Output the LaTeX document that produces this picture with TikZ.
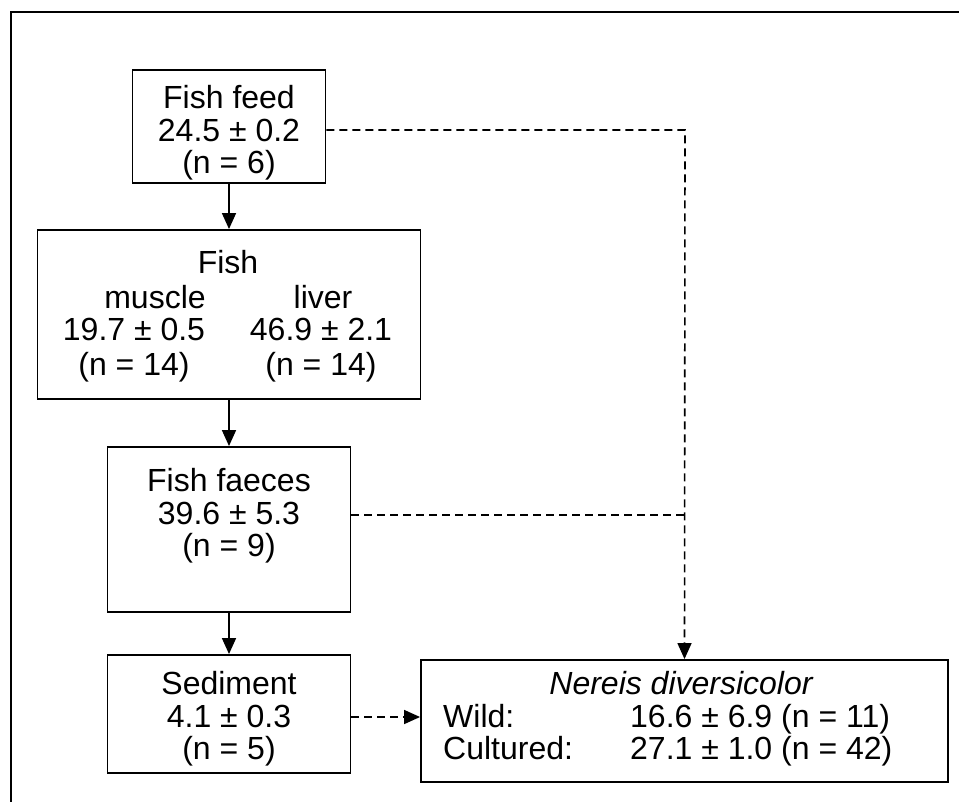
\documentclass[tikz,border=0pt]{standalone}
\usepackage{fontspec}
\setmainfont{Liberation Sans}
\usetikzlibrary{arrows.meta}
\begin{document}
\begin{tikzpicture}[x=1pt,y=-1pt,
  box/.style={draw,line width=1.9pt,rectangle,inner sep=0pt},
  txt/.style={inner sep=0pt,align=center,font={\fontsize{32}{34.5}\selectfont}},
  tight/.style={font={\fontsize{32}{32.5}\selectfont}},
  solidarrow/.style={line width=1.6pt,-{Triangle[length=16pt,width=14pt]}},
  dashline/.style={line width=1.6pt,dash pattern=on 8pt off 5pt},
  dasharrow/.style={dashline,-{Triangle[length=16pt,width=14pt]}}]
\useasboundingbox (0,0) rectangle (959,801);
% outer frame
\draw[line width=2.2pt] (11,805) -- (11,12) -- (965,12);
% boxes
\node[box,minimum width=193pt,minimum height=113pt] (feed) at (229,126.5) {};
\node[box,minimum width=383pt,minimum height=169pt] (fish) at (229,314.5) {};
\node[box,minimum width=243pt,minimum height=165pt] (faeces) at (229,529.5) {};
\node[box,minimum width=243pt,minimum height=118pt] (sed) at (229,714) {};
\node[box,minimum width=527pt,minimum height=122pt] (ner) at (684.5,721) {};
% texts
\node[txt,tight] (tfeed) at (229,133) {Fish feed\\24.5 ± 0.2\\(n = 6)};
\node[txt] (tfish) at (228,262) {Fish};
\node[txt] (tmus) at (155,297) {muscle};
\node[txt] (tmusv) at (134,350) {19.7 ± 0.5\\(n = 14)};
\node[txt] (tliv) at (323,297) {liver};
\node[txt] (tlivv) at (321,350) {46.9 ± 2.1\\(n = 14)};
\node[txt,tight] (tfae) at (229,516) {Fish faeces\\39.6 ± 5.3\\(n = 9)};
\node[txt,tight] (tsed) at (229,719) {Sediment\\4.1 ± 0.3\\(n = 5)};
\node[txt,font={\fontsize{32}{34.5}\selectfont\itshape}] (tner) at (681,683) {Nereis diversicolor};
\node[txt,anchor=base west] (twild) at (443,727) {Wild:};
\node[txt,anchor=base west] (twildv) at (630,727) {16.6 ± 6.9 (n = 11)};
\node[txt,anchor=base west] (tcul) at (443,759) {Cultured:};
\node[txt,anchor=base west] (tculv) at (630,759) {27.1 ± 1.0 (n = 42)};
% junctions
\coordinate (c1) at (685,130);
\coordinate (c2) at (685,515);
\coordinate (c3) at (400,717);
% connectors
\draw[solidarrow] (feed.south) -- (fish.north);
\draw[solidarrow] (fish.south) -- (faeces.north);
\draw[solidarrow] (faeces.south) -- (sed.north);
\draw[dasharrow] (feed.east |- c1) -- (c1) -- (ner.north);
\draw[dashline] (faeces.east |- c2) -- (c2);
\draw[dasharrow] (sed.east |- c3) -- (ner.west |- c3);
\end{tikzpicture}
\end{document}
